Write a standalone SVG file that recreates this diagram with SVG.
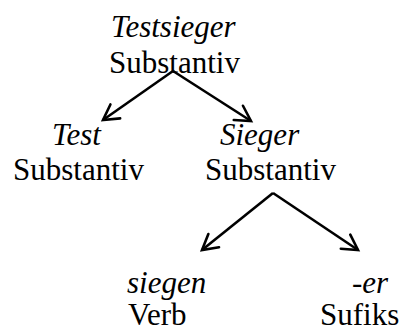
<svg xmlns="http://www.w3.org/2000/svg" width="403" height="333" viewBox="0 0 403 333">
<style>
text{font-family:'Liberation Serif','Times New Roman',serif;font-size:31px;fill:#000}
.w{font-style:italic}
.c{stroke:#000;stroke-width:2.6;fill:none;marker-end:url(#ah)}
</style>
<defs>
<marker id="ah" markerUnits="userSpaceOnUse" viewBox="-16 -10 18 20" refX="0" refY="0" markerWidth="18" markerHeight="20" orient="auto" overflow="visible">
<path d="M-15,-8.5 L0,0 L-15,8.5" fill="none" stroke="#000" stroke-width="2.6" stroke-linecap="round"/>
</marker>
</defs>
<g id="connectors">
<line class="c" x1="173" y1="71" x2="103" y2="120"/>
<line class="c" x1="173" y1="71" x2="251" y2="121"/>
<line class="c" x1="273" y1="193" x2="202" y2="250"/>
<line class="c" x1="273" y1="193" x2="358" y2="250"/>
</g>
<g id="testsieger">
<text class="w" x="111" y="37">Testsieger</text>
<text x="109" y="73">Substantiv</text>
</g>
<g id="test">
<text class="w" x="52" y="145">Test</text>
<text x="13" y="180">Substantiv</text>
</g>
<g id="sieger">
<text class="w" x="220" y="145">Sieger</text>
<text x="205" y="180">Substantiv</text>
</g>
<g id="siegen">
<text class="w" x="127" y="293">siegen</text>
<text x="128" y="325">Verb</text>
</g>
<g id="er">
<text class="w" x="352" y="293">-er</text>
<text x="320" y="325">Sufiks</text>
</g>
</svg>
